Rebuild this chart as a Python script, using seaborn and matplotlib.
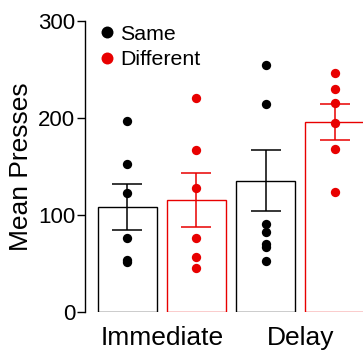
import numpy as np
import pandas as pd
import matplotlib
matplotlib.use('Agg')
import matplotlib.pyplot as plt
from matplotlib.lines import Line2D
import seaborn as sns

groups = ['Immediate', 'Delay']
conditions = ['Same', 'Different']
colors = ['black', '#E80000']

# means and SEM
mean_same = [108, 135]
mean_diff = [115, 196]
sem_same = [24, 31.5]
sem_diff = [28, 18.5]

# individual animals
imm_same = [197, 152, 123, 76, 54, 51]
imm_diff = [220, 167, 128, 76, 57, 45]
delay_same = [254, 214, 91, 82, 70, 67, 53]
delay_diff = [246, 230, 215, 195, 168, 124]

sns.set_style('ticks')
plt.rcParams['font.family'] = ['Liberation Sans', 'DejaVu Sans']
plt.rcParams.update({'text.color': 'black', 'axes.labelcolor': 'black',
                     'xtick.color': 'black', 'ytick.color': 'black',
                     'axes.edgecolor': 'black'})

bars = pd.DataFrame({
    'group': groups * 2,
    'cond': ['Same'] * 2 + ['Different'] * 2,
    'mean': mean_same + mean_diff,
    'sem': sem_same + sem_diff,
})
pts = pd.DataFrame({
    'group': ['Immediate'] * (len(imm_same) + len(imm_diff)) + ['Delay'] * (len(delay_same) + len(delay_diff)),
    'cond': ['Same'] * len(imm_same) + ['Different'] * len(imm_diff) + ['Same'] * len(delay_same) + ['Different'] * len(delay_diff),
    'presses': imm_same + imm_diff + delay_same + delay_diff,
})

fig = plt.figure(figsize=(3.63, 3.5), dpi=100)
ax = fig.add_axes([0.234, 0.1086, 0.766, 0.8325])

sns.barplot(data=bars, x='group', y='mean', hue='cond', order=groups, hue_order=conditions,
            palette=colors, fill=False, width=1.0, gap=0.14, linewidth=1.0,
            errorbar=None, legend=False, ax=ax)

# bar centres from the drawn patches (hue-major order)
centres = {}
for patch, (c, g) in zip(ax.patches, [(c, g) for c in conditions for g in groups]):
    centres[(g, c)] = patch.get_x() + patch.get_width() / 2

for c, col in zip(conditions, colors):
    sub = bars[bars.cond == c]
    xs = [centres[(g, c)] for g in sub.group]
    ax.errorbar(xs, sub['mean'], yerr=sub['sem'], fmt='none', ecolor=col,
                elinewidth=1.1, capsize=10.8, capthick=1.1, zorder=3)
    p = pts[pts.cond == c]
    ax.scatter([centres[(g, c)] for g in p.group], p.presses, s=45, color=col,
               linewidths=0, zorder=4)

ax.set_ylim(0, 300)
ax.set_xlim(-0.556, 1.453)
ax.set_yticks([0, 100, 200, 300])
ax.tick_params(axis='y', labelsize=16, length=6, width=1.0, pad=1)
ax.tick_params(axis='x', labelsize=19, length=0, pad=10)
ax.set_xlabel('')
ax.set_ylabel('Mean Presses', fontsize=19)
ax.yaxis.set_label_coords(-0.186, 0.5)
sns.despine(ax=ax, bottom=True)
ax.spines['left'].set_linewidth(1.0)

handles = [Line2D([], [], marker='o', ls='', color=col, markersize=8.6, markeredgewidth=0)
           for col in colors]
ax.legend(handles, conditions, loc='upper left', bbox_to_anchor=(0.05, 0.985), frameon=False,
          fontsize=15.4, borderpad=0, borderaxespad=0, handlelength=0.8,
          handletextpad=0.2, labelspacing=0.3)

fig.savefig('out.png', dpi=100)
